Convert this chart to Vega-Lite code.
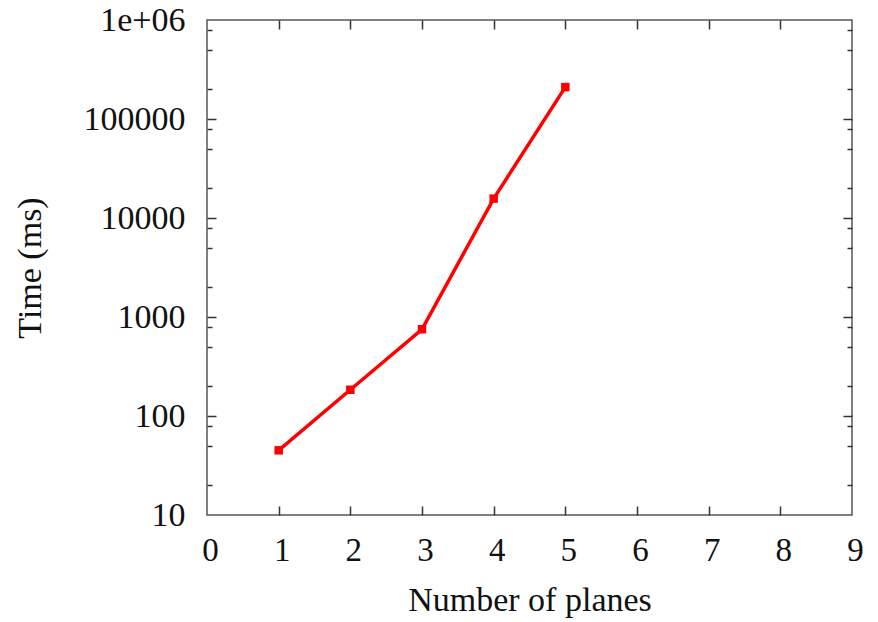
{
  "$schema": "https://vega.github.io/schema/vega-lite/v6.json",
  "autosize": "none",
  "width": 645,
  "height": 495,
  "padding": {"left": 207, "top": 20, "right": 26, "bottom": 107},
  "background": "white",
  "config": {
    "view": {"stroke": "#555555", "strokeWidth": 1.5},
    "axis": {"grid": false, "domain": false, "labelFont": "Liberation Serif", "titleFont": "Liberation Serif", "labelColor": "#111111", "titleColor": "#111111", "titleFontWeight": "normal", "tickColor": "#333333", "tickWidth": 1.5, "labelFlush": false, "labelOverlap": false}
  },
  "data": {"values": [
    {"planes": 1, "time": 45},
    {"planes": 2, "time": 184},
    {"planes": 3, "time": 752},
    {"planes": 4, "time": 15700},
    {"planes": 5, "time": 210000}
  ]},
  "layer": [
    {
      "mark": {"type": "line", "color": "#ff0000", "strokeWidth": 3.5},
      "encoding": {
        "x": {"field": "planes", "type": "quantitative",
          "scale": {"domain": [0, 9], "nice": false, "zero": false},
          "axis": {"orient": "bottom", "values": [0,1,2,3,4,5,6,7,8,9], "title": "Number of planes", "labelFontSize": 33, "titleFontSize": 34, "ticks": false, "labelPadding": 19, "labelOffset": 3, "titlePadding": 16}},
        "y": {"field": "time", "type": "quantitative",
          "scale": {"type": "log", "domain": [10, 1000000], "nice": false},
          "axis": {"orient": "left", "values": [10,100,1000,10000,100000,1000000],
            "labelExpr": "datum.value >= 1000000 ? '1e+06' : format(datum.value, 'd')",
            "ticks": false,
            "title": "Time (ms)", "labelFontSize": 34, "titleFontSize": 34, "labelPadding": 22, "titlePadding": 36}}
      }
    },
    {
      "mark": {"type": "point", "shape": "square", "filled": true, "color": "#ff0000", "size": 72, "opacity": 1},
      "encoding": {
        "x": {"field": "planes", "type": "quantitative",
          "axis": {"orient": "bottom", "values": [1,2,3,4,5,6,7,8], "labels": false, "title": null, "tickSize": 9, "offset": -9}},
        "y": {"field": "time", "type": "quantitative",
          "axis": {"orient": "left", "values": [100,1000,10000,100000], "labels": false, "title": null, "tickSize": 9, "offset": -9}}
      }
    },
    {
      "mark": {"type": "point", "opacity": 0},
      "encoding": {
        "x": {"field": "planes", "type": "quantitative",
          "axis": {"orient": "top", "values": [1,2,3,4,5,6,7,8], "labels": false, "title": null, "tickSize": 9, "offset": -9}},
        "y": {"field": "time", "type": "quantitative",
          "axis": {"orient": "left", "values": [20,50,80,200,500,800,2000,5000,8000,20000,50000,80000,200000,500000,800000], "labels": false, "title": null, "tickSize": 5, "offset": -5}}
      }
    },
    {
      "mark": {"type": "point", "opacity": 0},
      "encoding": {
        "x": {"field": "planes", "type": "quantitative", "axis": null},
        "y": {"field": "time", "type": "quantitative",
          "axis": {"orient": "right", "values": [100,1000,10000,100000], "labels": false, "title": null, "tickSize": 9, "offset": -9}}
      }
    },
    {
      "mark": {"type": "point", "opacity": 0},
      "encoding": {
        "x": {"field": "planes", "type": "quantitative", "axis": null},
        "y": {"field": "time", "type": "quantitative",
          "axis": {"orient": "right", "values": [20,50,80,200,500,800,2000,5000,8000,20000,50000,80000,200000,500000,800000], "labels": false, "title": null, "tickSize": 5, "offset": -5}}
      }
    }
  ],
  "resolve": {"axis": {"x": "independent", "y": "independent"}}
}
